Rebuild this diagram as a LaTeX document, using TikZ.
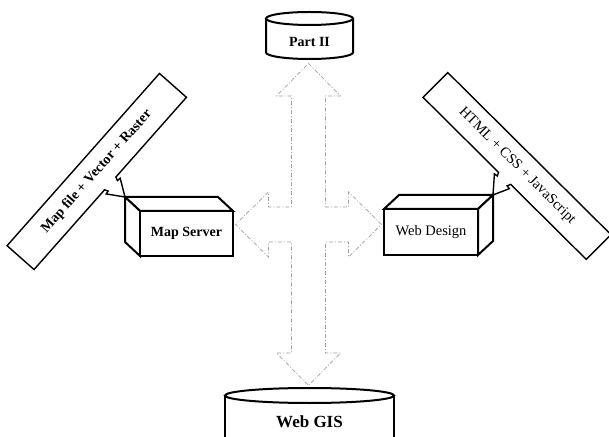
\documentclass[tikz,border=0pt]{standalone}
\usepackage{fontspec}
\setmainfont{Liberation Serif}
\begin{document}
\begin{tikzpicture}[x=1pt,y=1pt,
  boxline/.style={line width=2pt, line join=miter},
  barline/.style={line width=1.4pt, line join=miter},
  flowarrow/.style={draw=gray!75, line width=0.7pt,
    dash pattern=on 4pt off 2pt on 1pt off 2pt},
  boldlbl/.style={font=\bfseries\fontsize{14}{16}\selectfont, inner sep=0pt},
  plainlbl/.style={font=\fontsize{14.5}{17}\selectfont, inner sep=0pt}
]
\useasboundingbox (0,0) rectangle (609,436);
\clip (0,0) rectangle (609,436);

% anchor points
\coordinate (hub) at (308.5,211.5);
\coordinate (ms-corner) at (125,239);
\coordinate (wd-corner) at (493,241);

% four-way flow arrow
\draw[flowarrow] ([shift={(0,161)}]hub)
  -- ++(32,-32.5) -- ++(-15,0) -- ([shift={(17,17.5)}]hub)
  -- ([shift={(40,17.5)}]hub) -- ++(0,15) -- ([shift={(73,0)}]hub)
  -- ([shift={(40,-32.5)}]hub) -- ++(0,15) -- ([shift={(17,-17.5)}]hub)
  -- ([shift={(17,-128.5)}]hub) -- ++(15,0) -- ([shift={(0,-161)}]hub)
  -- ([shift={(-32,-128.5)}]hub) -- ++(15,0) -- ([shift={(-17,-17.5)}]hub)
  -- ([shift={(-40,-17.5)}]hub) -- ++(0,-15) -- ([shift={(-73,0)}]hub)
  -- ([shift={(-40,32.5)}]hub) -- ++(0,-15) -- ([shift={(-17,17.5)}]hub)
  -- ([shift={(-17,128.5)}]hub) -- ++(-15,0) -- cycle;

% Part II drum
\filldraw[boxline, fill=white] (266,417.5) -- (266,383.5)
  arc[start angle=180, end angle=360, x radius=43.5, y radius=6.5]
  -- (353,417.5);
\draw[boxline, fill=white] (309.5,417.5) ellipse[x radius=43.5, y radius=6.5];
\node[boldlbl] (part2) at (309.5,394) {Part II};

% Web GIS drum
\filldraw[boxline, fill=white] (225,40.5) -- (225,-20) -- (394,-20) -- (394,40.5);
\draw[boxline, fill=white] (309.5,40.5) ellipse[x radius=84.5, y radius=7.5];
\node[font=\bfseries\fontsize{17}{20}\selectfont, inner sep=0pt] (webgis) at (309.5,14) {Web GIS};

% callout: map data
\begin{scope}[shift={(96.75,264.5)}, rotate=48.5]
  \draw[barline, fill=white] (-115,18) -- (115,18) -- (115,-18) -- (8.5,-18)
    -- (7,-21.5) -- (10.5,-22) -- (ms-corner) -- (-10.5,-22) -- (-7,-21.5)
    -- (-8.5,-18) -- (-115,-18) -- cycle;
  \node[boldlbl, rotate=48.5] (mapdata) at (0,0) {Map file + Vector + Raster};
\end{scope}

% callout: web technologies
\begin{scope}[shift={(517,270)}, rotate=-44.8]
  \draw[barline, fill=white] (-115,17.5) -- (115,17.5) -- (115,-17.5) -- (8.5,-17.5)
    -- (7,-21) -- (10.5,-21.5) -- (wd-corner) -- (-10.5,-21.5) -- (-7,-21)
    -- (-8.5,-17.5) -- (-115,-17.5) -- cycle;
  \node[plainlbl, rotate=-44.8] (webtech) at (0,0) {HTML + CSS + JavaScript};
\end{scope}

% Map Server block
\filldraw[boxline, fill=white] (140,225) -- (125,239) -- (218,239) -- (233,225) -- cycle;
\filldraw[boxline, fill=white] (140,225) -- (125,239) -- (125,194) -- (140,180) -- cycle;
\filldraw[boxline, fill=white] (140,180) rectangle (233,225);
\node[boldlbl] (mapserver) at (186.5,202.5) {Map Server};

% Web Design block
\filldraw[boxline, fill=white] (384,227) -- (399,241) -- (493,241) -- (478,227) -- cycle;
\filldraw[boxline, fill=white] (478,227) -- (493,241) -- (493,195) -- (478,181) -- cycle;
\filldraw[boxline, fill=white] (384,181) rectangle (478,227);
\node[plainlbl] (webdesign) at (431,204) {Web Design};
\end{tikzpicture}
\end{document}
